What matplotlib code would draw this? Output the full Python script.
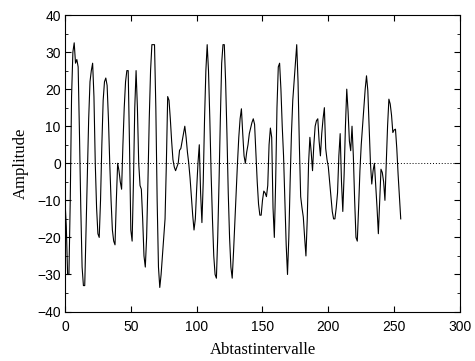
import matplotlib
matplotlib.use("Agg")
import matplotlib.pyplot as plt
from matplotlib.ticker import MultipleLocator
import numpy as np

# sample values, one per sampling interval (0..255)
amplitude = [
    -10, -17, -30, -30, -10, 18, 30, 32.5, 27, 28,
    26, 8, -12, -28, -33, -33, -18, -2, 12, 22,
    25, 27, 18, 0, -12, -19, -20, -10, 5, 17,
    22, 23, 21, 12, 0, -10, -18, -21, -22, -10,
    0, -2, -5, -7, 5, 15, 22, 25, 25, 5,
    -18, -21, -5, 15, 25, 15, 0, -6, -7, -15,
    -25, -28, -20, -5, 12, 25, 32, 32, 32, 15,
    -10, -28, -33.5, -30, -25, -20, -15, 0, 18, 17,
    12, 6, 1, -1, -2, -1, 0, 3.5, 4, 6,
    8, 10, 7, 3, 0, -4, -9, -14, -18, -15,
    -7, 0, 5, -8, -16, -5, 12, 25, 32, 25,
    12, -3, -15, -25, -30, -31, -20, -5, 12, 27,
    32, 32, 22, 8, -8, -20, -28, -31, -24, -16,
    -8, 0, 7, 12, 14.7, 8, 2, 0, 3, 5,
    8, 9.5, 11, 12, 10.5, 3, -5, -11, -14, -14,
    -10, -7.5, -8, -9, -6, 5, 9.5, 7, -12, -20,
    -5, 15, 26, 27, 20, 10, 2, -10, -22, -30,
    -20, -5, 8, 17, 22, 27, 32, 22, 5, -9,
    -12, -14.5, -20, -25, -15, 0, 7, 3, -2, 5,
    10, 11.5, 12, 6, 2, 8, 12, 15, 4, 1,
    -1, -5, -9, -13, -15, -15, -12, -8, 2, 8,
    -5, -13, -3, 10, 20, 14, 6, 3.4, 10, 2,
    -10, -20, -21, -12, -2, 5, 10, 15, 20, 23.6,
    19.6, 10, 0, -5.6, -2, 0, -6, -12, -19, -10,
    -1.6, -2.5, -5, -10, 0, 10, 17.3, 16, 13, 8.3,
    9, 9.2, 4, -3, -9, -15,
]
samples = np.arange(len(amplitude))

plt.rcParams["font.family"] = ["Liberation Sans", "DejaVu Sans"]
plt.rcParams["axes.unicode_minus"] = True

fig = plt.figure(figsize=(4.75, 3.61), dpi=100)
ax = fig.add_axes([0.1368, 0.137, 0.8316, 0.8214])

ax.axhline(0, color="black", linestyle=(0, (1, 2)), linewidth=0.7)
ax.plot(samples, amplitude, color="black", linewidth=0.8)

ax.set_xlim(0, 300)
ax.set_ylim(-40, 40)
ax.xaxis.set_major_locator(MultipleLocator(50))
ax.yaxis.set_major_locator(MultipleLocator(10))
ax.yaxis.set_minor_locator(MultipleLocator(5))
ax.tick_params(which="both", direction="in", top=True, right=True, labelsize=10)
ax.tick_params(axis="x", pad=6)
ax.tick_params(axis="y", pad=3)
ax.tick_params(which="major", length=4)
ax.tick_params(which="minor", length=2)

for s in ax.spines.values():
    s.set_linewidth(0.8)

ax.set_xlabel("Abtastintervalle", family="Liberation Serif", fontsize=12, labelpad=6)
ax.set_ylabel("Amplitude", family="Liberation Serif", fontsize=12, labelpad=6)

fig.savefig("out.png", dpi=100)
